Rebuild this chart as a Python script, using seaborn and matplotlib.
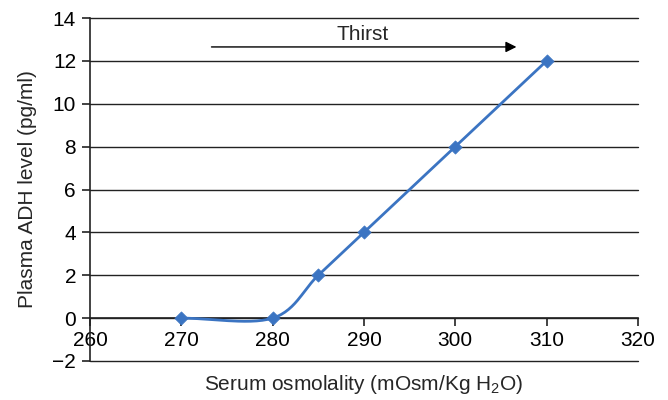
import numpy as np
import pandas as pd
import matplotlib
matplotlib.use('Agg')
import matplotlib.pyplot as plt
import seaborn as sns

osmolality = [270, 280, 285, 290, 300, 310]
adh_level = [0, 0, 2, 4, 8, 12]
x_ticks = [260, 270, 280, 290, 300, 310, 320]
y_ticks = [-2, 0, 2, 4, 6, 8, 10, 12, 14]

LINE_COLOR = '#3b74c2'
FS = 15


def smooth_curve(xs, ys, n=30):
    # catmull-rom through the points, like a spreadsheet "smoothed line"
    p = np.column_stack([xs, ys]).astype(float)
    p = np.vstack([2 * p[0] - p[1], p, 2 * p[-1] - p[-2]])
    out = []
    t = np.linspace(0, 1, n)[:, None]
    for i in range(1, len(p) - 2):
        p0, p1, p2, p3 = p[i - 1], p[i], p[i + 1], p[i + 2]
        seg = 0.5 * ((2 * p1) + (-p0 + p2) * t + (2 * p0 - 5 * p1 + 4 * p2 - p3) * t ** 2
                     + (-p0 + 3 * p1 - 3 * p2 + p3) * t ** 3)
        out.append(seg if i == 1 else seg[1:])
    return np.vstack(out)


sns.set_theme(style='white')
plt.rcParams['font.family'] = ['Liberation Sans', 'DejaVu Sans']
plt.rcParams['mathtext.default'] = 'regular'

fig = plt.figure(figsize=(6.68, 4.0), dpi=100)
ax = fig.add_axes([0.1347, 0.0975, 0.8203, 0.8575])

curve = smooth_curve(osmolality, adh_level)
df_curve = pd.DataFrame({'x': curve[:, 0], 'y': curve[:, 1]})
df_pts = pd.DataFrame({'x': osmolality, 'y': adh_level})

for yv in y_ticks:
    ax.axhline(yv, color='#222222', lw=1.0, zorder=1, clip_on=False)

sns.lineplot(data=df_curve, x='x', y='y', sort=False, color=LINE_COLOR, lw=2, ax=ax, zorder=3)
sns.scatterplot(data=df_pts, x='x', y='y', marker='D', s=45, color=LINE_COLOR,
                edgecolor=LINE_COLOR, ax=ax, zorder=4)

ax.set_xlim(260, 320)
ax.set_ylim(-2, 14)
ax.set_xticks(x_ticks)
ax.set_yticks(y_ticks)

ax.spines['top'].set_visible(False)
ax.spines['right'].set_visible(False)
ax.spines['bottom'].set_position(('data', 0))
for s in ['left', 'bottom']:
    ax.spines[s].set_color('#222222')
    ax.spines[s].set_linewidth(1.2)

ax.tick_params(axis='both', which='major', direction='out', length=6, width=1.2,
               color='#222222', labelsize=FS, labelcolor='black', bottom=True, left=True)
ax.tick_params(axis='x', pad=3)
ax.tick_params(axis='y', pad=4)

ax.set_xlabel('Serum osmolality (mOsm/Kg H$_2$O)', fontsize=FS)
ax.xaxis.set_label_coords(0.5, -0.035)
ax.set_ylabel('Plasma ADH level (pg/ml)', fontsize=FS, labelpad=11)

ax.annotate('', xy=(307, 12.65), xytext=(273, 12.65),
            arrowprops=dict(arrowstyle='-|>', color='black', lw=1.0, mutation_scale=16))
ax.text(289.8, 13.25, 'Thirst', ha='center', va='center', fontsize=FS)

fig.savefig('out.png', dpi=100)
